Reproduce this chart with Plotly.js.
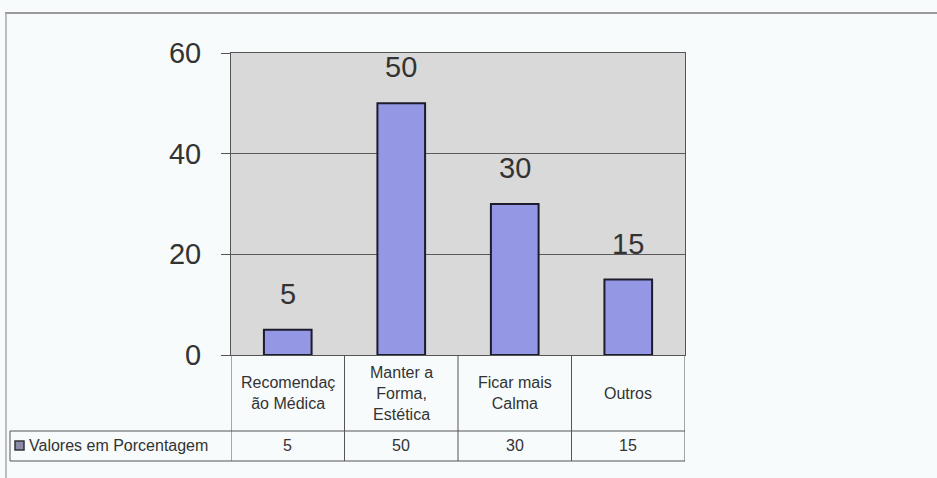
<!DOCTYPE html>
<html>
<head>
<meta charset="utf-8">
<script src="https://cdn.plot.ly/plotly-3.0.1.min.js"></script>
<style>
  html, body { margin: 0; padding: 0; background: #f7fbfc; }
  #chart { width: 937px; height: 478px; }
</style>
</head>
<body>
<div id="chart"></div>
<script>
// ---- data ----
const categories = ["Recomendaç<br>ão Médica", "Manter a<br>Forma,<br>Estética", "Ficar mais<br>Calma", "Outros"];
const values = [5, 50, 30, 15];
const seriesName = "Valores em Porcentagem";
const yTicks = [0, 20, 40, 60];

// ---- geometry (pixels) ----
const W = 937, H = 478;
const L = 231, R = 685, T = 53, B = 355;
const pw = R - L, ph = B - T;
const px = x => (x - L) / pw;
const py = y => (B - y) / ph;

const font = "Liberation Sans, Arial, sans-serif";
const txt = "#333333";
const lineC = "#555555";

const xIdx = categories.map((_, i) => i);

const trace = {
  type: "bar",
  x: xIdx,
  y: values,
  width: 0.42,
  marker: { color: "#9497e4", line: { color: "#1c1c2c", width: 2 } },
  hoverinfo: "none",
  showlegend: false
};

const shapes = [];
const annotations = [];

// page frame
shapes.push({ type: "line", xref: "paper", yref: "paper", x0: px(5), x1: px(937), y0: py(13), y1: py(13), line: { color: "#9a9a9a", width: 2 } });
shapes.push({ type: "line", xref: "paper", yref: "paper", x0: px(6), x1: px(6), y0: py(13), y1: py(478), line: { color: "#a8a8a8", width: 1.5 } });

// table horizontal lines
[431, 461].forEach(y => {
  shapes.push({ type: "line", xref: "paper", yref: "paper", x0: px(10), x1: px(R), y0: py(y), y1: py(y), line: { color: lineC, width: 1 } });
});
// table vertical lines (category boundaries)
for (let i = 0; i <= categories.length; i++) {
  shapes.push({ type: "line", xref: "x", yref: "paper", x0: i - 0.5, x1: i - 0.5, y0: py(355), y1: py(461), line: { color: lineC, width: 1 } });
}
// legend cell left edge
shapes.push({ type: "line", xref: "paper", yref: "paper", x0: px(10), x1: px(10), y0: py(431), y1: py(461), line: { color: lineC, width: 1 } });
// legend key
shapes.push({ type: "rect", xref: "paper", yref: "paper", x0: px(15), x1: px(24), y0: py(450), y1: py(441), fillcolor: "#8c8ca8", line: { color: "#333", width: 1.5 } });

annotations.push({ xref: "paper", yref: "paper", x: px(27), y: py(446), text: seriesName, showarrow: false, xanchor: "left", yanchor: "middle", font: { family: font, size: 16, color: txt } });

categories.forEach((c, i) => {
  annotations.push({ xref: "x", yref: "paper", x: i, y: py(393), text: c, showarrow: false, xanchor: "center", yanchor: "middle", align: "center", font: { family: font, size: 16, color: txt } });
  annotations.push({ xref: "x", yref: "paper", x: i, y: py(446), text: String(values[i]), showarrow: false, xanchor: "center", yanchor: "middle", font: { family: font, size: 16, color: txt } });
  annotations.push({ xref: "x", yref: "y", x: i, y: values[i], text: String(values[i]), showarrow: false, xanchor: "center", yanchor: "bottom", yshift: 18, font: { family: font, size: 29, color: txt } });
});

const layout = {
  width: W, height: H,
  margin: { l: L, r: W - R, t: T, b: H - B, pad: 0 },
  paper_bgcolor: "#f7fbfc",
  plot_bgcolor: "#d9d9d9",
  showlegend: false,
  bargap: 0.58,
  xaxis: {
    range: [-0.5, categories.length - 0.5],
    showticklabels: false, ticks: "", showgrid: false, zeroline: false,
    showline: true, linecolor: lineC, linewidth: 1, mirror: true
  },
  yaxis: {
    range: [0, 60], tickvals: yTicks, ticktext: yTicks.map(String),
    ticks: "outside", ticklen: 9, tickcolor: lineC, tickwidth: 1,
    ticklabelstandoff: 14,
    tickfont: { family: font, size: 29, color: txt },
    showgrid: true, gridcolor: "#5a5a5a", gridwidth: 1,
    zeroline: false, showline: true, linecolor: lineC, linewidth: 1, mirror: true
  },
  shapes: shapes,
  annotations: annotations
};

Plotly.newPlot("chart", [trace], layout, { displayModeBar: false, staticPlot: true });
</script>
</body>
</html>
